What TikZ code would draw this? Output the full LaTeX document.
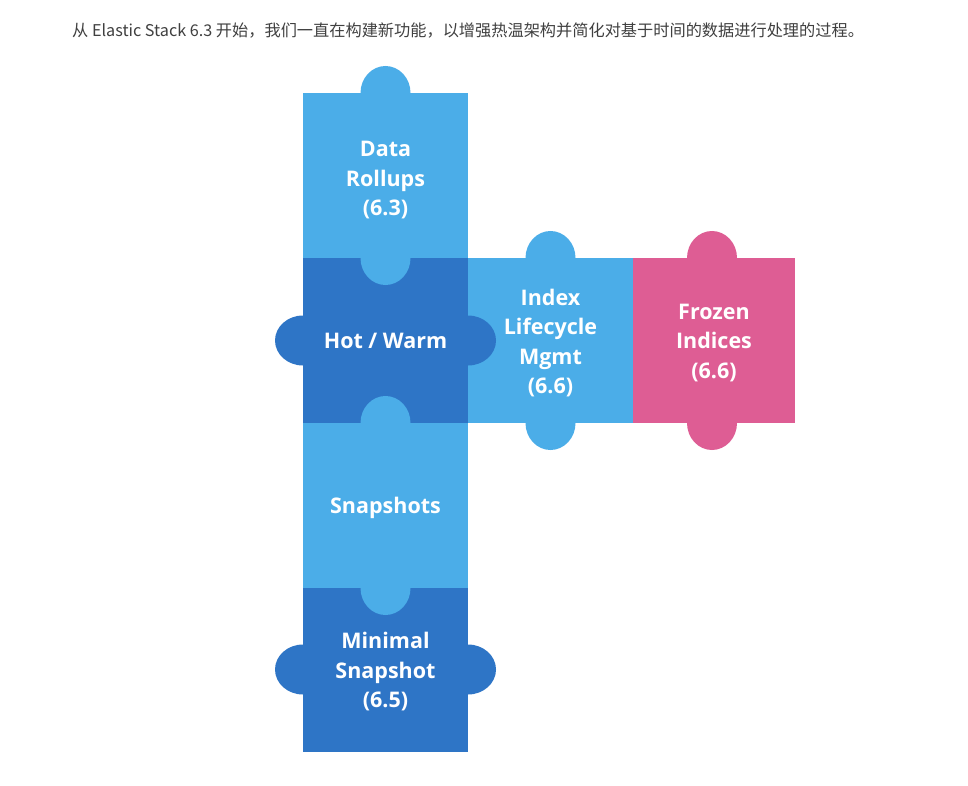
\documentclass[tikz,border=0pt]{standalone}
\usepackage{fontspec}
\setmainfont{Open Sans}
\newfontfamily\cjkfont{Noto Sans CJK SC}
\definecolor{tilelight}{HTML}{4BADE8}
\definecolor{tiledark}{HTML}{2E75C6}
\definecolor{tilepink}{HTML}{DE5D94}
\definecolor{captiongray}{HTML}{404040}
\begin{document}
\begin{tikzpicture}[x=1pt,y=-1pt,
  piece/.style={minimum width=165pt, minimum height=165pt, inner sep=0pt, outer sep=0pt},
  lightpiece/.style={piece, fill=tilelight},
  darkpiece/.style={piece, fill=tiledark},
  pinkpiece/.style={piece, fill=tilepink, minimum width=162pt},
  tiletext/.style={inner sep=0pt, text=white, align=center, yshift=-2.5pt,
    font=\bfseries\fontsize{21.5}{29.5}\selectfont},
  vtab/.style={x radius=25pt, y radius=27pt},
  htab/.style={x radius=28pt, y radius=25pt}]
\useasboundingbox (0,0) rectangle (968,786);
\fill[white] (0,0) rectangle (968,786);

% heading line
\node[anchor=west, inner sep=0pt, text=captiongray,
      font=\cjkfont\fontsize{16.2}{19}\selectfont] (caption) at (72,31)
  {从 Elastic Stack 6.3 开始，我们一直在构建新功能，以增强热温架构并简化对基于时间的数据进行处理的过程。};

% right-hand row: lifecycle management and frozen indices
\node[lightpiece] (ilm) at (550.5,340.5) {};
\node[pinkpiece] (frozen) at (714,340.5) {};
\fill[tilelight] (ilm.north) ellipse [vtab];
\fill[tilelight] (ilm.south) ellipse [vtab];
\fill[tilepink] ([xshift=-2pt]frozen.north) ellipse [vtab];
\fill[tilepink] ([xshift=-2pt]frozen.south) ellipse [vtab];

% dark pieces with side tabs
\node[darkpiece] (hotwarm) at (385.5,340.5) {};
\fill[tiledark] (hotwarm.west) ellipse [htab];
\fill[tiledark] (hotwarm.east) ellipse [htab];
\node[darkpiece] (minimal) at (385.5,669.5) {};
\fill[tiledark] (minimal.west) ellipse [htab];
\fill[tiledark] (minimal.east) ellipse [htab];

% light pieces with top and bottom tabs
\node[lightpiece] (rollups) at (385.5,175.5) {};
\fill[tilelight] (rollups.north) ellipse [vtab];
\fill[tilelight] (rollups.south) ellipse [vtab];
\node[lightpiece] (snapshots) at (385.5,505.5) {};
\fill[tilelight] (snapshots.north) ellipse [vtab];
\fill[tilelight] (snapshots.south) ellipse [vtab];

% labels on the pieces
\node[tiletext, yshift=-2.5pt] (rollups-label) at (rollups) {Data\\Rollups\\(6.3)};
\node[tiletext, yshift=2pt] (hotwarm-label) at (hotwarm) {Hot / Warm};
\node[tiletext] (snapshots-label) at (snapshots) {Snapshots};
\node[tiletext] (minimal-label) at (minimal) {Minimal\\Snapshot\\(6.5)};
\node[tiletext] (ilm-label) at (ilm) {Index\\Lifecycle\\Mgmt\\(6.6)};
\node[tiletext] (frozen-label) at (frozen) {Frozen\\Indices\\(6.6)};
\end{tikzpicture}
\end{document}
